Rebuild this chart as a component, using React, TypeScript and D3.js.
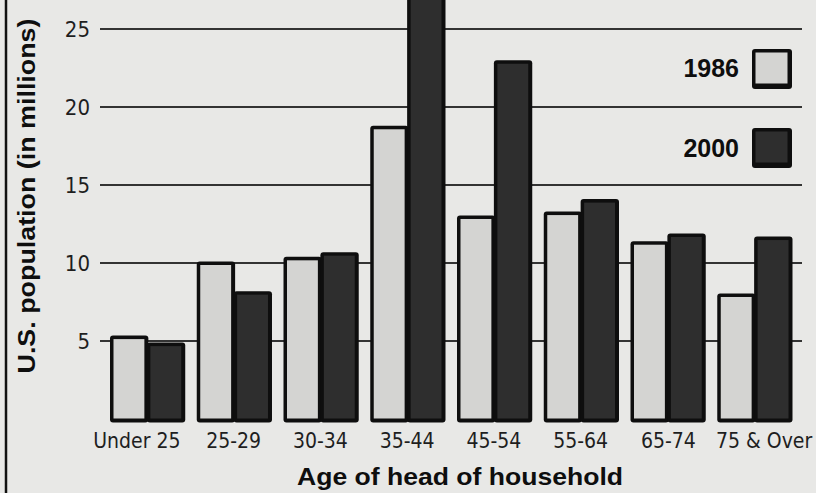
import React from "react";
import * as d3 from "d3";

const categories = ["Under 25", "25-29", "30-34", "35-44", "45-54", "55-64", "65-74", "75 & Over"];
const series1986 = [5.25, 10.0, 10.3, 18.7, 12.95, 13.2, 11.3, 7.95];
const series2000 = [4.8, 8.1, 10.6, 27.0, 22.9, 14.0, 11.8, 11.6];
const yTicks = [5, 10, 15, 20, 25];
const legendLabels = ["1986", "2000"];

const W = 816;
const H = 493;
const labelShift = [-10, 0, 0, 0, 0, 0, 1, 10];

export default function App() {
  const x = d3.scaleBand<string>().domain(categories).range([110, 791]).paddingInner(0.15).paddingOuter(0);
  const y = d3.scaleLinear().domain([0, 25]).range([419, 29]);
  const sub = d3.scaleBand<string>().domain(legendLabels).range([0, x.bandwidth()]).padding(0);
  const y0 = y(0);
  const num = "'DejaVu Sans Condensed', 'Liberation Sans', Arial, sans-serif";
  const bold = "'Liberation Sans', Arial, Helvetica, sans-serif";
  const fills = ["#d4d4d2", "#2e2e2e"];

  const bar = (cat: string, s: number, v: number) => {
    const x0 = (x(cat) as number) + (sub(legendLabels[s]) as number);
    const bw = sub.bandwidth();
    const yt = y(v);
    return (
      <g key={cat + s}>
        <rect x={x0} y={yt - 1.5} width={bw + 1.5} height={y0 - yt + 5} rx={3} fill="#0e0e0e" />
        <rect x={x0 + 3.5} y={yt + 2} width={bw - 6} height={y0 - yt - 2.5} fill={fills[s]} />
      </g>
    );
  };

  return (
    <svg width={W} height={H} style={{ position: "absolute", left: 0, top: 0, display: "block" }}>
      <rect x={0} y={0} width={W} height={H} fill="#e8e8e6" />
      <line x1={6} x2={6} y1={0} y2={H} stroke="#111" strokeWidth={2.5} />
      {yTicks.map((t) => (
        <g key={t}>
          <line x1={100} x2={802} y1={y(t)} y2={y(t)} stroke="#333" strokeWidth={1.8} />
          <text x={90} y={y(t)} dy="0.36em" textAnchor="end" fontFamily={num} fontSize={22} fill="#1e1e1e">
            {t}
          </text>
        </g>
      ))}
      {categories.map((c, i) => (
        <g key={c}>
          {bar(c, 0, series1986[i])}
          {bar(c, 1, series2000[i])}
          <text x={(x(c) as number) + x.bandwidth() / 2 + labelShift[i]} y={448} textAnchor="middle" fontFamily={num} fontSize={21} fill="#1e1e1e">
            {c}
          </text>
        </g>
      ))}
      <text x={460} y={485} textAnchor="middle" fontFamily={bold} fontWeight="bold" fontSize={24} textLength={326} lengthAdjust="spacingAndGlyphs" fill="#0e0e0e">
        Age of head of household
      </text>
      <text transform="translate(35,196) rotate(-90)" textAnchor="middle" fontFamily={bold} fontWeight="bold" fontSize={23} textLength={355} lengthAdjust="spacingAndGlyphs" fill="#0e0e0e">
        U.S. population (in millions)
      </text>
      {legendLabels.map((l, i) => (
        <g key={l}>
          <rect x={752} y={49 + i * 79} width={40} height={40} rx={3} fill="#0e0e0e" />
          <rect x={755.5} y={52.5 + i * 79} width={32} height={31} fill={fills[i]} />
          <text x={739} y={68 + i * 80} dy="0.36em" textAnchor="end" fontFamily={bold} fontWeight="bold" fontSize={25} fill="#0e0e0e">
            {l}
          </text>
        </g>
      ))}
    </svg>
  );
}
